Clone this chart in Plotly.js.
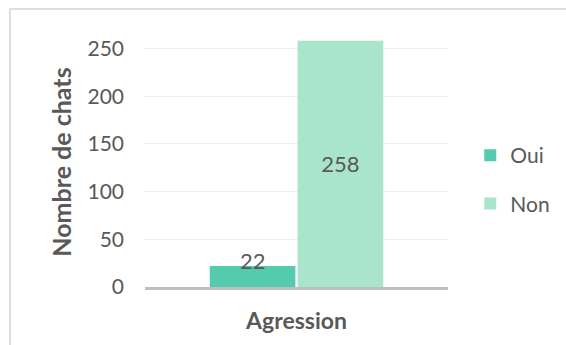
<!DOCTYPE html>
<html>
<head>
<meta charset="utf-8">
<script src="https://cdn.plot.ly/plotly-3.0.1.min.js"></script>
<style>
  html, body { margin: 0; padding: 0; background: #ffffff; }
  #wrap { position: relative; width: 566px; height: 345px; overflow: hidden; }
  #frame {
    position: absolute; left: 9px; top: 8px; width: 600px; height: 400px;
    border: 2px solid #dedede; box-sizing: border-box; pointer-events: none;
  }
  #chart { position: absolute; left: 0; top: 0; width: 566px; height: 345px; }
</style>
</head>
<body>
<div id="wrap">
  <div id="chart"></div>
  <div id="frame"></div>
</div>
<script>
// Cats showing aggression: yes / no counts
const categories = ["Agression"];
const seriesNames = ["Oui", "Non"];
const ouiValues = [22];
const nonValues = [258];
const yTickValues = [0, 50, 100, 150, 200, 250];

const FONT = "Lato, 'Open Sans', sans-serif";
const GREY = "#595959";

const traces = [
  {
    type: "bar",
    name: seriesNames[0],
    x: categories,
    y: ouiValues,
    marker: { color: "#55cbad" },
    legendgroup: "a",
    hoverinfo: "skip"
  },
  {
    type: "bar",
    name: seriesNames[1],
    x: categories,
    y: nonValues,
    marker: { color: "#a8e5cc" },
    text: nonValues.map(String),
    textposition: "inside",
    insidetextanchor: "middle",
    textfont: { family: FONT, size: 22, color: GREY },
    legendgroup: "b",
    hoverinfo: "skip"
  }
];

// the small "Oui" bar carries its label straddling the bar top
const ouiLabels = categories.map((c, i) => ({
  x: c,
  y: ouiValues[i],
  xref: "x",
  yref: "y",
  xshift: -44,
  yshift: 6,
  yanchor: "middle",
  text: String(ouiValues[i]),
  showarrow: false,
  font: { family: FONT, size: 22, color: GREY }
}));

const layout = {
  width: 566,
  height: 345,
  margin: { l: 145, r: 117, t: 37, b: 58 },
  paper_bgcolor: "rgba(0,0,0,0)",
  plot_bgcolor: "rgba(0,0,0,0)",
  font: { family: FONT, color: GREY, size: 21 },
  barmode: "group",
  bargap: 0.42,
  bargroupgap: 0.025,
  showlegend: true,
  annotations: ouiLabels,
  legend: {
    x: 1.07, xanchor: "left",
    y: 0.43, yanchor: "middle",
    traceorder: "grouped",
    tracegroupgap: 18,
    font: { family: FONT, size: 21, color: GREY },
    bgcolor: "rgba(0,0,0,0)"
  },
  xaxis: {
    type: "category",
    showgrid: false,
    showline: true,
    linecolor: "#bfbfbf",
    linewidth: 3,
    ticks: "",
    tickfont: { family: FONT, size: 23, color: GREY, weight: "bold" },
    ticklabelstandoff: 11,
    fixedrange: true
  },
  yaxis: {
    range: [0, 262],
    tickvals: yTickValues,
    ticktext: yTickValues.map(String),
    showgrid: true,
    gridcolor: "#efefef",
    gridwidth: 1,
    zeroline: false,
    showline: false,
    ticks: "",
    ticklabelstandoff: 20,
    tickfont: { family: FONT, size: 21, color: GREY },
    title: {
      text: "Nombre de chats",
      font: { family: FONT, size: 25, color: GREY, weight: "bold" },
      standoff: 8
    },
    fixedrange: true
  }
};

Plotly.newPlot("chart", traces, layout, { staticPlot: true, displayModeBar: false });
</script>
</body>
</html>
